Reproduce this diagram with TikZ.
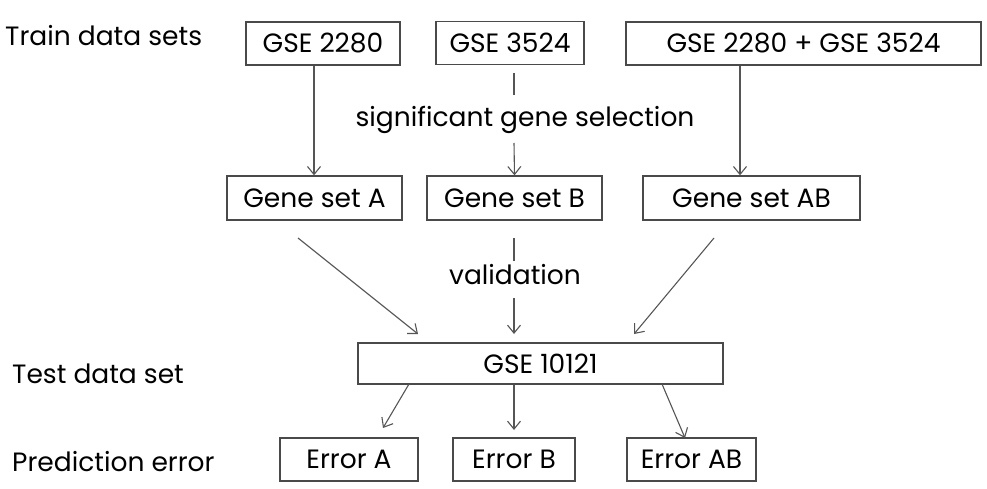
\documentclass[tikz,border=0pt]{standalone}
\usepackage{fontspec}
\setmainfont{Poppins}
\usetikzlibrary{arrows.meta}
\definecolor{boxline}{HTML}{4A4A4A}
\definecolor{arrowline}{HTML}{555555}
\tikzset{
  box/.style={draw=boxline, line width=1.3pt, minimum height=#1, inner sep=0pt, font=\fontsize{26.5}{31}\selectfont, text=black},
  box/.default=43pt,
  lbl/.style={anchor=west, inner sep=0pt, font=\fontsize{26.5}{31}\selectfont, text=black},
  mid/.style={inner sep=0pt, font=\fontsize{26.5}{31}\selectfont, text=black},
  arr/.style={draw=arrowline, line width=1.1pt, -{Straight Barb[length=8pt,width=13pt]}},
  seg/.style={draw=arrowline, line width=1.1pt}
}
\begin{document}
\begin{tikzpicture}[x=1pt,y=-1pt]
\useasboundingbox (0,0) rectangle (987,489);
% left labels
\node[lbl] (train) at (5,36) {Train data sets};
\node[lbl] (test) at (12,374) {Test data set};
\node[lbl] (pred) at (12,462) {Prediction error};
% top row
\node[box, minimum width=154pt] (g2280) at (323,43.5) {GSE 2280};
\node[box, minimum width=148pt] (g3524) at (510,43) {GSE 3524};
\node[box, minimum width=355pt] (gboth) at (803.5,43.5) {GSE 2280 + GSE 3524};
% gene sets
\node[box, minimum width=175pt, minimum height=44pt] (gA) at (314.5,198) {Gene set A};
\node[box, minimum width=175pt, minimum height=44pt] (gB) at (514.5,198) {Gene set B};
\node[box, minimum width=217pt, minimum height=44pt] (gAB) at (751.5,198) {Gene set AB};
% test
\node[box, minimum width=365pt, minimum height=41pt] (test10121) at (540.5,363.5) {GSE 10121};
% errors
\node[box, minimum width=138pt] (eA) at (349,459.5) {Error A};
\node[box, minimum width=122pt] (eB) at (514,459.5) {Error B};
\node[box, minimum width=129pt] (eAB) at (691.5,459.5) {Error AB};
% middle labels
\node[mid] (sgs) at (525,120) {significant gene selection};
\node[mid] (val) at (515,275) {validation};
% coordinates
\coordinate (s1a) at (514,73);
\coordinate (s1b) at (514,95);
\coordinate (s1c) at (514,143);
\coordinate (s2a) at (514,238);
\coordinate (s2b) at (514,261);
\coordinate (s2c) at (514,298);
\coordinate (aA1) at (298,238);
\coordinate (aA2) at (418,334);
\coordinate (aC1) at (714,238);
\coordinate (aC2) at (634,334);
\coordinate (aB2) at (514,334);
% top arrows
\draw[arr] (g2280.south -| 314,0) -- (gA.north -| 314,0);
\draw[seg] (s1a) -- (s1b);
\draw[arr] (s1c) -- (gB.north);
\draw[arr] (gboth.south -| 740,0) -- (gAB.north -| 740,0);
% middle arrows
\draw[arr] (aA1) -- (aA2);
\draw[seg] (s2a) -- (s2b);
\draw[arr] (s2c) -- (aB2);
\draw[arr] (aC1) -- (aC2);
% bottom arrows
\coordinate (b1) at (409,384);
\coordinate (b2) at (383,428);
\coordinate (b3) at (662,384);
\coordinate (b4) at (685,438);
\coordinate (bB) at (514,430);
\draw[arr] (b1) -- (b2);
\draw[arr] (test10121.south -| eB.north) -- (bB);
\draw[arr] (b3) -- (b4);
\end{tikzpicture}
\end{document}
